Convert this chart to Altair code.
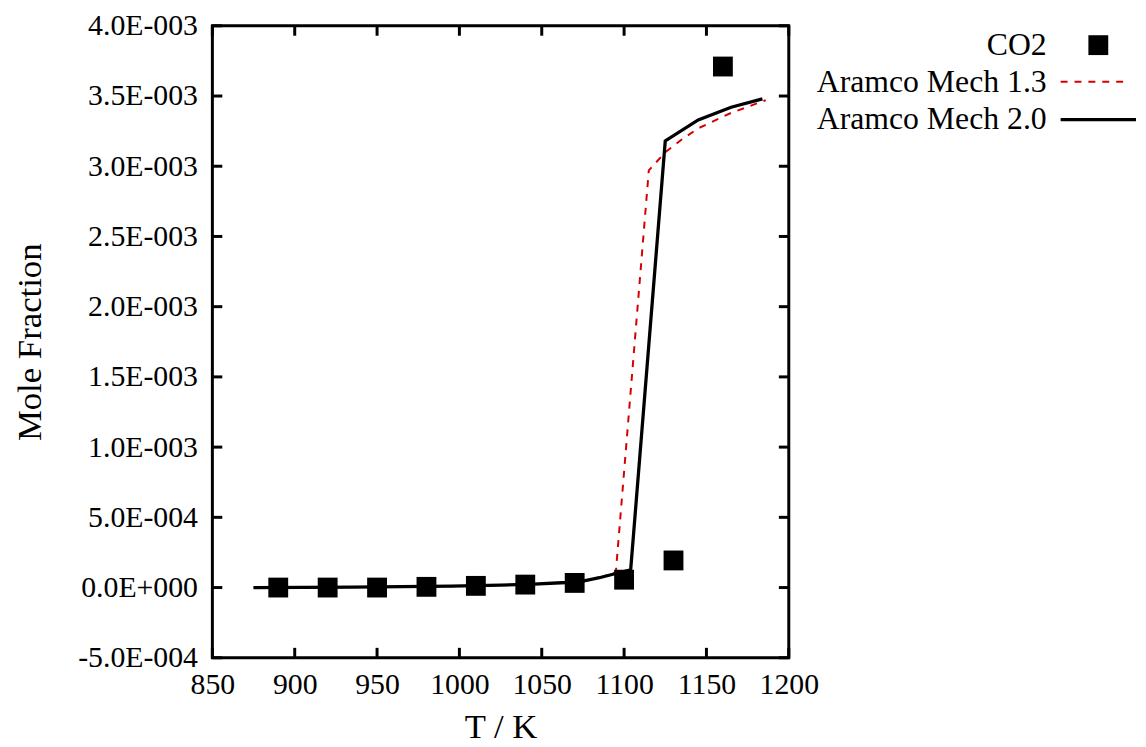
import altair as alt
import pandas as pd

# ---- data ----
T_exp = [890, 920, 950, 980, 1010, 1040, 1070, 1100, 1130, 1160]
co2_exp = [0.0, 0.0, 0.0, 0.5e-5, 1.2e-5, 2.1e-5, 3.3e-5, 5.6e-5, 1.93e-4, 3.71e-3]

T_m20 = [875, 905, 935, 965, 995, 1025, 1045, 1065, 1075, 1085, 1095, 1104, 1125, 1145, 1165, 1184]
co2_m20 = [0.0, 0.1e-5, 0.3e-5, 0.6e-5, 1.0e-5, 1.7e-5, 2.4e-5, 3.6e-5, 4.6e-5, 7.0e-5,
           1.0e-4, 1.27e-4, 3.18e-3, 3.33e-3, 3.42e-3, 3.48e-3]

T_m13 = [875, 905, 935, 965, 995, 1025, 1045, 1065, 1075, 1085, 1095, 1115, 1125, 1135, 1145, 1165, 1186]
co2_m13 = [0.0, 0.1e-5, 0.3e-5, 0.6e-5, 1.0e-5, 1.7e-5, 2.4e-5, 3.6e-5, 4.6e-5, 7.0e-5,
           1.1e-4, 2.97e-3, 3.10e-3, 3.19e-3, 3.27e-3, 3.38e-3, 3.47e-3]

x_ticks = [850, 900, 950, 1000, 1050, 1100, 1150, 1200]
y_ticks = [-5e-4, 0.0, 5e-4, 1e-3, 1.5e-3, 2e-3, 2.5e-3, 3e-3, 3.5e-3, 4e-3]

legend_labels = ["CO2", "Aramco Mech 1.3", "Aramco Mech 2.0"]

# ---- tables ----
df_exp = pd.DataFrame({"T": T_exp, "v": co2_exp})
df_m20 = pd.DataFrame({"T": T_m20, "v": co2_m20})
df_m13 = pd.DataFrame({"T": T_m13, "v": co2_m13})
df_xt = pd.DataFrame({"T": x_ticks})
df_yt = pd.DataFrame({"v": y_ticks})

W, H = 581, 637
FONT = "Liberation Serif"
RED = "#d40000"

ylab = ("(datum.value < 0 ? '-' : '') + split(format(abs(datum.value),'.1e'),'e')[0] + 'E' + "
        "(toNumber(split(format(abs(datum.value),'.1e'),'e')[1]) < 0 ? '-' : '+') + "
        "pad(toString(abs(toNumber(split(format(abs(datum.value),'.1e'),'e')[1]))), 3, '0', 'left')")

xaxis = alt.Axis(title="T / K", values=x_ticks, format="d", ticks=False, domain=False, grid=False,
                 labelFont=FONT, labelFontSize=30, labelColor="black", labelPadding=12,
                 titleFont=FONT, titleFontSize=35, titleFontWeight="normal", titleColor="black",
                 titlePadding=10, labelFlush=False)
yaxis = alt.Axis(title="Mole Fraction", values=y_ticks, labelExpr=ylab, ticks=False, domain=False,
                 grid=False, labelFont=FONT, labelFontSize=30, labelColor="black", labelPadding=15,
                 titleFont=FONT, titleFontSize=35, titleFontWeight="normal", titleColor="black",
                 titlePadding=30, labelFlush=False)

xs = alt.Scale(domain=[850, 1200], nice=False, zero=False)
ys = alt.Scale(domain=[-5e-4, 4e-3], nice=False, zero=False)

X = alt.X("T:Q", scale=xs, axis=xaxis)
Y = alt.Y("v:Q", scale=ys, axis=yaxis)

m13 = alt.Chart(df_m13).mark_line(color=RED, strokeWidth=2, strokeDash=[7, 7]).encode(x=X, y=Y)
m20 = alt.Chart(df_m20).mark_line(color="black", strokeWidth=3.3).encode(x=X, y=Y)
pts = alt.Chart(df_exp).mark_square(color="black", opacity=1, size=400).encode(x=X, y=Y)

# inward ticks on all four sides
tick_l = alt.Chart(df_yt).mark_rule(color="black", strokeWidth=3).encode(
    y=Y, x=alt.value(0), x2=alt.value(10))
tick_r = alt.Chart(df_yt).mark_rule(color="black", strokeWidth=3).encode(
    y=Y, x=alt.value(W - 10), x2=alt.value(W))
tick_b = alt.Chart(df_xt).mark_rule(color="black", strokeWidth=3).encode(
    x=X, y=alt.value(H - 10), y2=alt.value(H))
tick_t = alt.Chart(df_xt).mark_rule(color="black", strokeWidth=3).encode(
    x=X, y=alt.value(0), y2=alt.value(10))

# legend (outside the plot, at the top right)
df_leg = pd.DataFrame({"label": legend_labels})
def leg_text(i, ypix):
    return alt.Chart(df_leg.iloc[[i]]).mark_text(
        align="right", baseline="alphabetic", font=FONT, fontSize=32, color="black"
    ).encode(text="label:N", x=alt.value(841), y=alt.value(ypix))

leg = [
    leg_text(0, 29.5), leg_text(1, 66.5), leg_text(2, 104.5),
    alt.Chart(df_leg.iloc[[0]]).mark_square(color="black", opacity=1, size=400).encode(
        x=alt.value(893), y=alt.value(19.5)),
    alt.Chart(df_leg.iloc[[1]]).mark_rule(color=RED, strokeWidth=2, strokeDash=[7, 7]).encode(
        x=alt.value(855), x2=alt.value(925), y=alt.value(56.5)),
    alt.Chart(df_leg.iloc[[2]]).mark_rule(color="black", strokeWidth=3.3).encode(
        x=alt.value(855), x2=alt.value(931), y=alt.value(94.5)),
]

chart = alt.layer(m13, m20, pts, tick_l, tick_r, tick_b, tick_t, *leg).properties(
    width=W, height=H, background="white",
    padding={"left": 5, "top": 0, "right": 0, "bottom": 0}
).configure_view(stroke="black", strokeWidth=3)

chart.save("out.html", embed_options={"renderer": "svg", "actions": False})
